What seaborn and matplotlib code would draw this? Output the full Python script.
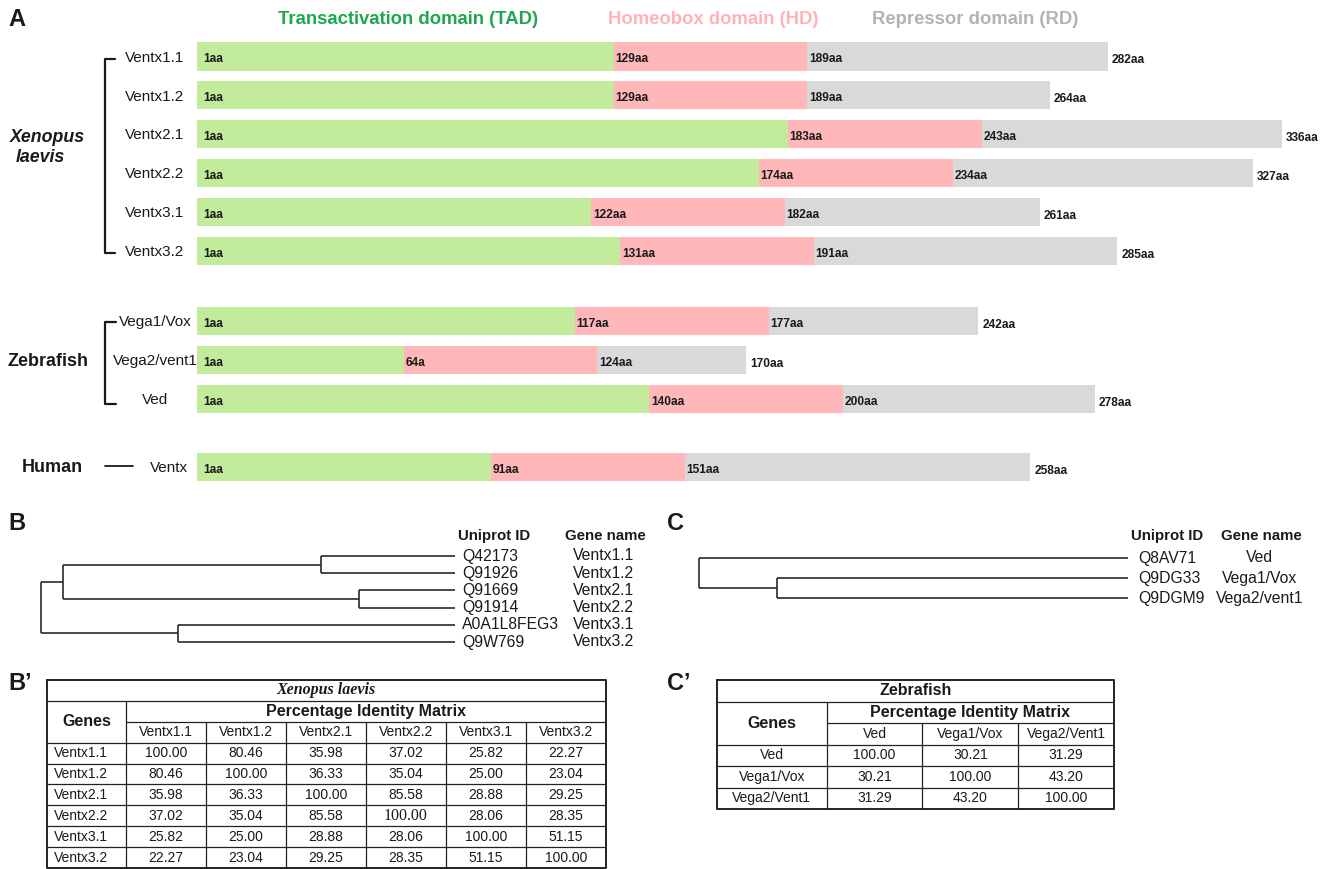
import numpy as np
import pandas as pd
import matplotlib
matplotlib.use("Agg")
import matplotlib.pyplot as plt
from matplotlib.colors import ListedColormap
import seaborn as sns

sns.set_theme(style="white")
plt.rcParams["font.family"] = ["Liberation Sans", "DejaVu Sans"]

# ---------------- data ----------------
# Domain boundaries (amino-acid positions): HD start, RD start, protein length
xen_names = ["Ventx1.1", "Ventx1.2", "Ventx2.1", "Ventx2.2", "Ventx3.1", "Ventx3.2"]
xen_hd = [129, 129, 183, 174, 122, 131]
xen_rd = [189, 189, 243, 234, 182, 191]
xen_len = [282, 264, 336, 327, 261, 285]

zf_names = ["Vega1/Vox", "Vega2/vent1", "Ved"]
zf_hd = [117, 64, 140]
zf_rd = [177, 124, 200]
zf_len = [242, 170, 278]

hs_names = ["Ventx"]
hs_hd = [91]
hs_rd = [151]
hs_len = [258]

# Phylogenetic trees (node depth from root, leaves at 1.0)
tree_b_ids = ["Q42173", "Q91926", "Q91669", "Q91914", "A0A1L8FEG3", "Q9W769"]
tree_b_genes = ["Ventx1.1", "Ventx1.2", "Ventx2.1", "Ventx2.2", "Ventx3.1", "Ventx3.2"]
tree_b = (0.0, [(0.054, [(0.677, [0, 1]), (0.767, [2, 3])]), (0.330, [4, 5])])

tree_c_ids = ["Q8AV71", "Q9DG33", "Q9DGM9"]
tree_c_genes = ["Ved", "Vega1/Vox", "Vega2/vent1"]
tree_c = (0.0, [0, (0.182, [1, 2])])

# Percentage identity matrices
xen_pim = [
    [100.00, 80.46, 35.98, 37.02, 25.82, 22.27],
    [80.46, 100.00, 36.33, 35.04, 25.00, 23.04],
    [35.98, 36.33, 100.00, 85.58, 28.88, 29.25],
    [37.02, 35.04, 85.58, 100.00, 28.06, 28.35],
    [25.82, 25.00, 28.88, 28.06, 100.00, 51.15],
    [22.27, 23.04, 29.25, 28.35, 51.15, 100.00],
]
zf_pim_names = ["Ved", "Vega1/Vox", "Vega2/Vent1"]
zf_pim = [
    [100.00, 30.21, 31.29],
    [30.21, 100.00, 43.20],
    [31.29, 43.20, 100.00],
]

# ---------------- style ----------------
GREEN, PINK, GRAY = "#c2eb9c", "#ffb7ba", "#d9d9d9"
INK = "#1a1a1a"
W, H = 1333, 869

fig = plt.figure(figsize=(W / 100, H / 100), dpi=100)
fig.patch.set_facecolor("white")


def box(left, top, right, bottom):
    return [left / W, 1 - bottom / H, (right - left) / W, (bottom - top) / H]


# full-figure layer for panel letters, headers and species brackets
ov = fig.add_axes([0, 0, 1, 1], zorder=5)
ov.set_xlim(0, W)
ov.set_ylim(H, 0)
ov.set_axis_off()
ov.patch.set_alpha(0)

# ---------------- panel A ----------------
BAR_L, BAR_R, AA_MAX = 197, 1282, 336


def domain_group(top_center, names, hd, rd, length, pitch, label_x, label_ha,
                 hd_text=None):
    n = len(names)
    ax = fig.add_axes(box(BAR_L, top_center - pitch / 2, BAR_R,
                          top_center + (n - 0.5) * pitch))
    df = pd.DataFrame({"protein": names, "length": length, "rd": rd, "hd": hd})
    for col, color in [("length", GRAY), ("rd", PINK), ("hd", GREEN)]:
        sns.barplot(data=df, x=col, y="protein", color=color, saturation=1,
                    width=0.72, errorbar=None, linewidth=0, ax=ax)
    ax.set_xlim(0, AA_MAX)
    ax.set_ylim(n - 0.5, -0.5)
    ax.set_axis_off()
    kw = dict(textcoords="offset points", va="center", ha="left",
              fontsize=8.6, fontweight="bold", color=INK, annotation_clip=False)
    for i in range(n):
        h_lab = hd_text[i] if hd_text else f"{hd[i]}aa"
        ax.annotate("1aa", (0, i), xytext=(4.5, -2.0), **kw)
        ax.annotate(h_lab, (hd[i], i), xytext=(1.3, -2.0), **kw)
        ax.annotate(f"{rd[i]}aa", (rd[i], i), xytext=(1.3, -2.0), **kw)
        ax.annotate(f"{length[i]}aa", (length[i], i), xytext=(3.0, -2.6), **kw)
        ax.text((label_x - BAR_L) / (BAR_R - BAR_L), i + 0.03, names[i],
                transform=ax.get_yaxis_transform(), ha=label_ha, va="center",
                fontsize=11, color=INK, clip_on=False)
    return ax


domain_group(56.5, xen_names, xen_hd, xen_rd, xen_len, 38.9, 184, "right")
domain_group(321, zf_names, zf_hd, zf_rd, zf_len, 39, 155, "center",
             hd_text=["117aa", "64a", "140aa"])
domain_group(467, hs_names, hs_hd, hs_rd, hs_len, 39, 188, "right")

# domain headers
ov.text(408, 20, "Transactivation domain (TAD)", color="#1fa650",
        fontsize=13.3, fontweight="bold", ha="center", va="center")
ov.text(713, 20, "Homeobox domain (HD)", color="#ffb3b8",
        fontsize=13.3, fontweight="bold", ha="center", va="center")
ov.text(975, 20, "Repressor domain (RD)", color="#b3b3b3",
        fontsize=13.3, fontweight="bold", ha="center", va="center")

# species brackets and names
lw_br = 1.6
ov.plot([115, 105, 105, 115], [59, 59, 253, 253], color=INK, lw=lw_br)
ov.plot([116, 105, 105, 116], [322, 322, 404, 404], color=INK, lw=lw_br)
ov.plot([105, 133], [466, 466], color=INK, lw=1.3)
ov.text(10, 137, "Xenopus", fontsize=12.8, fontweight="bold", style="italic",
        ha="left", va="center", color=INK)
ov.text(16, 158, "laevis", fontsize=12.8, fontweight="bold", style="italic",
        ha="left", va="center", color=INK)
ov.text(8, 362, "Zebrafish", fontsize=13, fontweight="bold",
        ha="left", va="center", color=INK)
ov.text(22, 467, "Human", fontsize=13, fontweight="bold",
        ha="left", va="center", color=INK)

# panel letters
for lab, x, y in [("A", 8, 19), ("B", 8, 524), ("C", 667, 524),
                  ("B\u2019", 8, 684), ("C\u2019", 667, 684)]:
    ov.text(x, y, lab, fontsize=17, fontweight="bold", ha="left", va="center",
            color=INK)


# ---------------- panels B and C: trees ----------------
def draw_tree(ax, node, parent_x=None, lw=1.2, color="#2a2a2a"):
    if isinstance(node, int):
        x, y = 1.0, float(node)
    else:
        x, kids = node
        ys = [draw_tree(ax, k, x, lw, color) for k in kids]
        ax.plot([x, x], [min(ys), max(ys)], color=color, lw=lw,
                solid_capstyle="butt", clip_on=False)
        y = (min(ys) + max(ys)) / 2
    if parent_x is not None:
        ax.plot([parent_x, x], [y, y], color=color, lw=lw,
                solid_capstyle="butt", clip_on=False)
    return y


def tree_panel(root_x, leaf_x, first_y, pitch, tree, ids, genes, id_x,
               gene_x, gene_ha, head_id_x, head_gene_x, head_y, head_gene_ha):
    n = len(ids)
    ax = fig.add_axes(box(root_x, first_y - pitch / 2, leaf_x,
                          first_y + (n - 0.5) * pitch))
    ax.set_xlim(0, 1)
    ax.set_ylim(n - 0.5, -0.5)
    ax.set_axis_off()
    draw_tree(ax, tree)
    span = leaf_x - root_x
    fx = lambda px_: (px_ - root_x) / span
    tr = ax.get_yaxis_transform()
    for i in range(n):
        ax.text(fx(id_x), i, ids[i], transform=tr, ha="left", va="center",
                fontsize=11.3, color=INK, clip_on=False)
        ax.text(fx(gene_x), i, genes[i], transform=tr, ha=gene_ha,
                va="center", fontsize=11.3, color=INK, clip_on=False)
    hy = (head_y - first_y) / pitch
    ax.text(fx(head_id_x), hy, "Uniprot ID", transform=tr, ha="left",
            va="center", fontsize=10.8, fontweight="bold", color=INK,
            clip_on=False)
    ax.text(fx(head_gene_x), hy, "Gene name", transform=tr, ha=head_gene_ha,
            va="center", fontsize=10.8, fontweight="bold", color=INK,
            clip_on=False)


tree_panel(41, 455, 556, 17.2, tree_b, tree_b_ids, tree_b_genes,
           id_x=462, gene_x=573, gene_ha="left", head_id_x=458,
           head_gene_x=565, head_y=536, head_gene_ha="left")
tree_panel(699, 1128, 558, 20, tree_c, tree_c_ids, tree_c_genes,
           id_x=1138, gene_x=1260, gene_ha="center", head_id_x=1131,
           head_gene_x=1261, head_y=536, head_gene_ha="center")


# ---------------- panels B' and C': identity tables ----------------
def identity_table(rect, names, matrix, genes_w, title, title_kw,
                   row_ha="left", serif_cell=None):
    n = len(names)
    ax = fig.add_axes(rect)
    df = pd.DataFrame(matrix, index=names, columns=names)
    sns.heatmap(df, ax=ax, cmap=ListedColormap(["white"]), cbar=False,
                annot=True, fmt=".2f", linewidths=0,
                annot_kws=dict(fontsize=10, color=INK),
                xticklabels=False, yticklabels=False)
    cells = list(ax.texts)
    if serif_cell is not None:
        t = cells[serif_cell[0] * n + serif_cell[1]]
        t.set_fontfamily("Liberation Serif")
        t.set_fontsize(11.5)
    ax.set_xlim(-genes_w, n)
    ax.set_ylim(n, -3)
    ax.set_axis_off()
    lk = dict(color="#222", lw=0.9, clip_on=False, solid_capstyle="butt")
    # inner grid
    ax.plot([-genes_w, n], [-2, -2], **lk)
    ax.plot([0, n], [-1, -1], **lk)
    for i in range(0, n):
        ax.plot([-genes_w, n], [i, i], **lk)
    for j in range(0, n):
        ax.plot([j, j], [-1 if j else -2, n], **lk)
    # outer frame
    ax.plot([-genes_w, n, n, -genes_w, -genes_w], [-3, -3, n, n, -3],
            color="#222", lw=1.4, clip_on=False)
    for j, name in enumerate(names):
        ax.text(j + 0.5, -0.5, name, ha="center", va="center", fontsize=10,
                color=INK)
        if row_ha == "left":
            ax.text(-genes_w + 0.09, j + 0.5, name, ha="left", va="center",
                    fontsize=10, color=INK)
        else:
            ax.text(-genes_w / 2, j + 0.5, name, ha="center", va="center",
                    fontsize=10, color=INK)
    ax.text(-genes_w / 2, -1, "Genes", ha="center", va="center",
            fontsize=11.5, fontweight="bold", color=INK)
    ax.text(n / 2, -1.5, "Percentage Identity Matrix", ha="center",
            va="center", fontsize=11.5, fontweight="bold", color=INK)
    ax.text((n - genes_w) / 2, -2.5, title, ha="center", va="center",
            color=INK, **title_kw)
    return ax


identity_table(box(47, 680, 606, 868), xen_names, xen_pim, 0.99,
               "Xenopus laevis",
               dict(fontsize=11.5, fontweight="bold", style="italic",
                    family="Liberation Serif"),
               row_ha="left", serif_cell=(3, 3))
identity_table(box(717, 680, 1114, 809), zf_pim_names, zf_pim, 1.146,
               "Zebrafish", dict(fontsize=11.5, fontweight="bold"),
               row_ha="center")

fig.savefig("out.png", dpi=100, facecolor="white")
